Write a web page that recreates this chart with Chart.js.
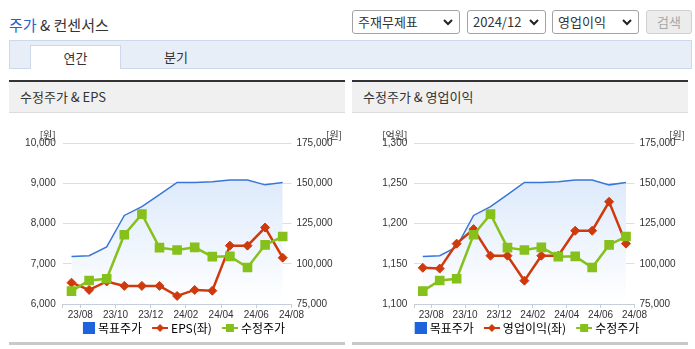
<!DOCTYPE html>
<html>
<head>
<meta charset="utf-8">
<script src="https://cdn.jsdelivr.net/npm/chart.js@4.4.1/dist/chart.umd.min.js"></script>
<style>
  body { margin: 0; width: 695px; height: 349px; overflow: hidden; background: #fff; position: relative;
         font-family: "Noto Sans CJK KR", "Noto Sans", sans-serif; color: #333; }
  .abs { position: absolute; box-sizing: border-box; }
  .ttl { left: 9px; top: 14px; font-size: 15px; line-height: 21px; white-space: nowrap; }
  .ttl b { font-weight: normal; color: #2460cf; }
  .sel { top: 10px; height: 24px; border: 1px solid #a3a3a3; border-radius: 3px; font-size: 13px;
         line-height: 22px; padding-left: 5px; background: #fff; }
  .sel svg { position: absolute; right: 6px; top: 8px; }
  .btn { left: 646px; top: 10px; width: 46px; height: 24px; border: 1px solid #d0d0d0; border-radius: 3px;
         background: #ececec; color: #a8a8a8; font-size: 13px; line-height: 22px; text-align: center; }
  .tabs { left: 9px; top: 40px; width: 683px; height: 29px; background: #e8eef8; border: 1px solid #cdd8ea; }
  .tab { top: 45px; height: 24px; font-size: 13px; line-height: 23px; text-align: center; }
  .tab.on { left: 30px; width: 91px; background: #fff; border: 1px solid #cdd8ea; border-bottom: none; }
  .pnl { top: 80px; width: 336px; height: 265px; border-top: 2px solid #333; border-bottom: 3px solid #c9c9c9; }
  .pnl .hd { position: absolute; left: 0; top: 0; width: 336px; height: 31px; background: #f0f0f0;
             border-bottom: 1px solid #dcdcdc; box-sizing: border-box; font-size: 13px; line-height: 30px; padding-left: 11px; }
  .pnl canvas { position: absolute; left: 0; top: 31px; }
</style>
</head>
<body>
<div class="abs ttl"><b>주가</b> &amp; 컨센서스</div>

<div class="abs sel" style="left:352px;width:108px">주재무제표<svg width="10" height="7"><polyline points="1,1 5,5 9,1" fill="none" stroke="#222" stroke-width="2"/></svg></div>
<div class="abs sel" style="left:467px;width:79px">2024/12<svg width="10" height="7"><polyline points="1,1 5,5 9,1" fill="none" stroke="#222" stroke-width="2"/></svg></div>
<div class="abs sel" style="left:552px;width:87px">영업이익<svg width="10" height="7"><polyline points="1,1 5,5 9,1" fill="none" stroke="#222" stroke-width="2"/></svg></div>
<div class="abs btn">검색</div>

<div class="abs tabs"></div>
<div class="abs tab on">연간</div>
<div class="abs tab" style="left:121px;width:110px">분기</div>

<div class="abs pnl" style="left:9px">
  <div class="hd">수정주가 &amp; EPS</div>
  <canvas id="chartEps" width="336" height="229"></canvas>
</div>
<div class="abs pnl" style="left:352px">
  <div class="hd">수정주가 &amp; 영업이익</div>
  <canvas id="chartOp" width="336" height="229"></canvas>
</div>

<script>
// ---------- Data ----------
const months = ["23/08", "23/09", "23/10", "23/11", "23/12", "24/01", "24/02",
                "24/03", "24/04", "24/05", "24/06", "24/07", "24/08"];
const targetPrice = [104500, 105000, 110500, 130000, 135500, 143000, 150500,
                     150500, 151000, 152000, 152000, 149000, 150500];
const adjPrice = [83000, 89600, 90700, 118000, 130800, 110000, 108500,
                  110200, 104400, 104600, 97700, 111700, 116900];
const eps = [6530, 6350, 6560, 6450, 6450, 6450, 6200, 6350, 6330, 7450, 7450, 7900, 7150];
const opProfit = [1145, 1144, 1175, 1193, 1160, 1160, 1129, 1160, 1160, 1191, 1191, 1227, 1175];

const BLUE = "#3a76d9";
const RED = "#cf3a0c";
const GREEN = "#86c01b";
const TICK_FONT = { family: "'Liberation Sans', Arial, sans-serif", size: 10 };

// points sit in the middle of each month slot, labels at the slot's right edge
const toXY = (arr) => arr.map((v, i) => ({ x: i + 0.5, y: v }));

// ---------- Legend icons ----------
// wide transparent canvas: the blank left part acts as spacing between items
function legendIcon(type, color) {
  const c = document.createElement("canvas");
  c.width = 29;
  c.height = 12;
  const g = c.getContext("2d");
  g.fillStyle = color;
  g.strokeStyle = color;
  if (type === "box") {
    g.fillRect(17, 0, 12, 12);
    return c;
  }
  g.lineWidth = 2;
  g.beginPath();
  g.moveTo(13, 6);
  g.lineTo(29, 6);
  g.stroke();
  if (type === "diamond") {
    g.beginPath();
    g.moveTo(21, 2); g.lineTo(25, 6); g.lineTo(21, 10); g.lineTo(17, 6);
    g.closePath();
    g.fill();
  } else {
    g.fillRect(17, 2, 8, 8);
  }
  return c;
}

// ---------- Unit labels above the y axes ----------
const unitLabels = {
  id: "unitLabels",
  afterDraw(chart, args, opts) {
    const { ctx, chartArea, scales } = chart;
    ctx.save();
    ctx.font = "10px 'Noto Sans CJK KR'";
    ctx.fillStyle = "#333";
    ctx.textBaseline = "middle";
    ctx.textAlign = "right";
    ctx.fillText(opts.left, scales.y.right - 7, chartArea.top - 8);
    ctx.fillText(opts.right, chart.width - 3, chartArea.top - 8);
    ctx.restore();
  },
};

function fillGradient(context) {
  const { chart } = context;
  const a = chart.chartArea;
  if (!a) return "rgba(214,230,251,0.8)";
  const g = chart.ctx.createLinearGradient(0, a.top, 0, a.bottom);
  g.addColorStop(0, "#d3e4fa");
  g.addColorStop(1, "#ffffff");
  return g;
}

// ---------- Chart builder ----------
function makeChart(id, leftName, leftData, leftMin, leftMax, leftStep, leftUnit, leftWidth) {
  const icons = [legendIcon("box", "#1f63dc"), legendIcon("diamond", RED), legendIcon("square", GREEN)];
  const names = ["목표주가", leftName, "수정주가"];

  return new Chart(document.getElementById(id), {
    type: "line",
    data: {
      datasets: [
        {
          label: "목표주가",
          data: toXY(targetPrice),
          yAxisID: "y1",
          borderColor: BLUE,
          borderWidth: 1.5,
          backgroundColor: fillGradient,
          fill: "start",
          pointRadius: 0,
          tension: 0,
          order: 3,
        },
        {
          label: leftName,
          data: toXY(leftData),
          yAxisID: "y",
          borderColor: RED,
          backgroundColor: RED,
          borderWidth: 2.5,
          pointStyle: "rectRot",
          pointRadius: 4.5,
          pointBorderWidth: 1,
          tension: 0,
          order: 2,
        },
        {
          label: "수정주가",
          data: toXY(adjPrice),
          yAxisID: "y1",
          borderColor: GREEN,
          backgroundColor: GREEN,
          borderWidth: 2.5,
          pointStyle: "rect",
          pointRadius: 6.8,
          pointBorderWidth: 0,
          tension: 0,
          order: 1,
        },
      ],
    },
    options: {
      responsive: false,
      animation: false,
      devicePixelRatio: 1,
      layout: { padding: { top: 30, bottom: -2, left: 0, right: 0 } },
      plugins: {
        tooltip: { enabled: false },
        unitLabels: { left: leftUnit, right: "[원]" },
        legend: {
          position: "bottom",
          labels: {
            usePointStyle: true,
            pointStyleWidth: 23,
            boxHeight: 12,
            padding: 0,
            color: "#333",
            font: { family: "'Noto Sans CJK KR'", size: 12, lineHeight: 1 },
            generateLabels: () =>
              names.map((n, i) => ({
                text: n,
                pointStyle: icons[i],
                fillStyle: "transparent",
                strokeStyle: "transparent",
                lineWidth: 0,
                hidden: false,
                datasetIndex: i,
              })),
          },
        },
      },
      scales: {
        x: {
          type: "linear",
          min: 0,
          max: months.length,
          afterBuildTicks: (s) => {
            const t = [{ value: 0 }];
            for (let v = 1; v <= months.length; v += 2) t.push({ value: v });
            s.ticks = t;
          },
          ticks: {
            autoSkip: false,
            maxRotation: 0,
            padding: 1,
            color: "#333",
            font: TICK_FONT,
            callback: (v) => (v % 2 === 1 ? months[v - 1] : ""),
          },
          grid: { drawOnChartArea: false, tickLength: 4, color: "#c4cfdc" },
          border: { display: true, color: "#c4cfdc" },
        },
        y: {
          position: "left",
          min: leftMin,
          max: leftMax,
          ticks: { stepSize: leftStep, padding: 7, color: "#333", font: TICK_FONT },
          grid: { color: "#dedede", drawTicks: false },
          border: { display: false },
          afterFit: (s) => { s.width = leftWidth; },
        },
        y1: {
          position: "right",
          min: 75000,
          max: 175000,
          ticks: { stepSize: 25000, padding: 5, color: "#333", font: TICK_FONT },
          grid: { drawOnChartArea: false, drawTicks: false },
          border: { display: false },
          afterFit: (s) => { s.width = 53.5; },
        },
      },
    },
    plugins: [unitLabels],
  });
}

makeChart("chartEps", "EPS(좌)", eps, 6000, 10000, 1000, "[원]", 53.7);
makeChart("chartOp", "영업이익(좌)", opProfit, 1100, 1300, 50, "[억원]", 62.3);
</script>
</body>
</html>
